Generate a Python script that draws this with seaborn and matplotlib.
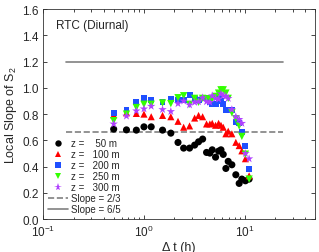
import numpy as np
import pandas as pd
import matplotlib
matplotlib.use("Agg")
import matplotlib.pyplot as plt
import seaborn as sns
from matplotlib.lines import Line2D

dt = [0.50, 0.67, 0.84, 1.00, 1.18, 1.53, 1.85, 2.18, 2.48, 2.84, 3.19, 3.49, 3.83, 4.19,
      4.52, 4.77, 5.15, 5.52, 5.83, 6.14, 6.52, 6.88, 7.48, 8.19, 8.84, 9.40, 10.2, 11.1]
s50 = [0.686, 0.68, 0.678, 0.703, 0.703, 0.678, 0.655, 0.584, 0.541, 0.541, 0.564, 0.589, 0.61, 0.508,
       0.503, 0.528, 0.472, 0.518, 0.528, 0.493, 0.386, 0.44, 0.414, 0.338, 0.272, 0.305, 0.292, 0.305]
s100 = [0.795, 0.81, 0.805, 0.80, 0.78, 0.79, 0.78, 0.745, 0.70, 0.71, 0.77, 0.79, 0.78, 0.725,
        0.725, 0.73, 0.715, 0.73, 0.715, 0.70, 0.65, 0.67, 0.65, 0.585, 0.56, 0.52, 0.46, 0.33]
s200 = [0.81, 0.835, 0.89, 0.925, 0.91, 0.895, 0.915, 0.91, 0.91, 0.945, 0.915, 0.91, 0.925, 0.92,
        0.89, 0.88, 0.88, 0.925, 0.90, 0.88, 0.83, 0.83, 0.83, 0.74, 0.73, 0.665, 0.555, 0.385]
s250 = [0.75, 0.80, 0.85, 0.875, 0.875, 0.885, 0.88, 0.925, 0.94, 0.875, 0.92, 0.89, 0.92, 0.915,
        0.915, 0.915, 0.935, 0.96, 0.985, 0.985, 0.96, 0.92, 0.81, 0.765, 0.71, 0.63, 0.495, 0.305]
s300 = [0.725, 0.785, 0.825, 0.84, 0.86, 0.835, 0.82, 0.88, 0.90, 0.87, 0.89, 0.895, 0.925, 0.895,
        0.89, 0.94, 0.92, 0.915, 0.955, 0.94, 0.935, 0.92, 0.835, 0.78, 0.76, 0.73, 0.50, 0.46]
labels = ["z =    50 m", "z =   100 m", "z =   200 m", "z =   250 m", "z =   300 m"]
ref_x = [0.167, 24.2]
slope23 = [2/3, 2/3]
slope65 = [6/5, 6/5]

sns.set_style("ticks")
plt.rcParams['font.family'] = ['Liberation Sans', 'DejaVu Sans']
plt.rcParams['mathtext.fontset'] = 'custom'
plt.rcParams['mathtext.rm'] = 'Liberation Sans'
plt.rcParams['mathtext.it'] = 'Liberation Sans'

frames = []
for lab, vals in zip(labels, [s50, s100, s200, s250, s300]):
    frames.append(pd.DataFrame({"dt": dt, "slope": vals, "z": lab}))
df = pd.concat(frames, ignore_index=True)

colors = ["#000000", "#ff0000", "#1f4fff", "#33ff00", "#b040ff"]
markers = ["o", "^", "s", "v", "*"]
sizes = [26, 26, 18, 28, 40]

fig = plt.figure(figsize=(3.19, 2.53), dpi=100)
ax = fig.add_axes([0.136, 0.130, 0.851, 0.830])

handles = []
for lab, c, m, s in zip(labels, colors, markers, sizes):
    sub = df[df["z"] == lab]
    sns.scatterplot(data=sub, x="dt", y="slope", color=c, marker=m, s=s,
                    edgecolor="none", linewidth=0, ax=ax, legend=False, zorder=3)
    handles.append(Line2D([], [], linestyle="none", marker=m, color=c,
                          markersize=np.sqrt(s) * 0.9, markeredgewidth=0, label=lab))

sns.lineplot(x=ref_x, y=slope23, color="#808080", linestyle="--", linewidth=1.2, ax=ax, zorder=2)
sns.lineplot(x=ref_x, y=slope65, color="#808080", linestyle="-", linewidth=1.2, ax=ax, zorder=2)
handles.append(Line2D([], [], color="#808080", linestyle="--", linewidth=1.2, label="Slope = 2/3"))
handles.append(Line2D([], [], color="#808080", linestyle="-", linewidth=1.2, label="Slope = 6/5"))

ax.set_xscale("log")
ax.set_xlim(0.1, 50)
ax.set_ylim(0, 1.6)
ax.set_yticks(np.arange(0, 1.61, 0.2))
ax.set_yticklabels([f"{v:.1f}" for v in np.arange(0, 1.61, 0.2)])
ax.tick_params(which="both", direction="in", top=True, right=True, labelsize=8.5, length=3, width=0.6)
ax.tick_params(which="minor", length=1.8)
for sp in ax.spines.values():
    sp.set_linewidth(0.6)
    sp.set_color("#333333")

ax.set_xlabel("Δ t (h)", fontsize=9, labelpad=1)
ax.set_ylabel("Local Slope of S$_2$", fontsize=9, labelpad=2)
ax.text(0.045, 0.925, "RTC (Diurnal)", transform=ax.transAxes, fontsize=8.5, va="center")

leg = ax.legend(handles=handles, loc="lower left", frameon=False, fontsize=7,
                handlelength=2.0, handletextpad=0.3, labelspacing=0.1,
                borderaxespad=0.1, bbox_to_anchor=(0.0, 0.0))

fig.savefig("out.png", dpi=100)
